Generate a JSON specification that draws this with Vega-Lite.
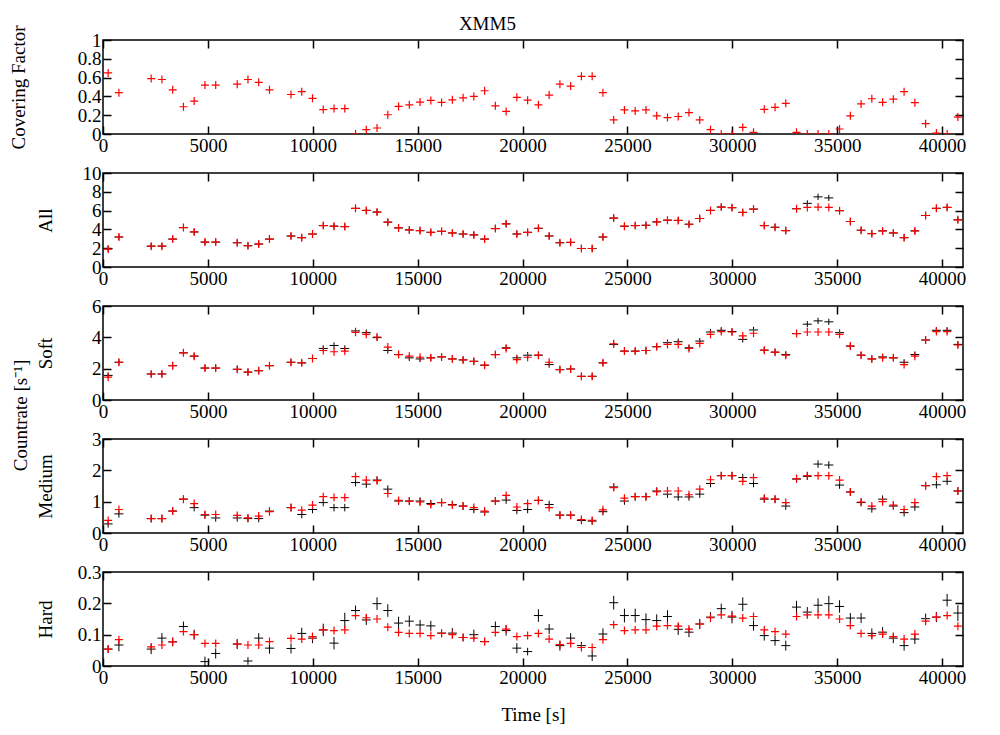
{
 "$schema": "https://vega.github.io/schema/vega-lite/v6.json",
 "padding": {"left": 8, "top": 15, "right": 30, "bottom": 5},
 "title": {"text": "XMM5", "font": "Liberation Serif", "fontSize": 19, "fontWeight": "normal", "color": "black", "anchor": "middle", "offset": -10},
 "bounds": "flush",
 "spacing": 39,
 "data": {"values": [
  {"t":245,"cf":0.65,"ar":1.9,"ab":1.95,"ae":0.33,"sr":1.46,"sb":1.57,"se":0.2,"mr":0.4,"mb":0.29,"me":0.12,"hr":0.054,"hb":0.054,"he":0.012},
  {"t":758,"cf":0.44,"ar":3.19,"ab":3.19,"ae":0.33,"sr":2.41,"sb":2.41,"se":0.2,"mr":0.75,"mb":0.61,"me":0.12,"hr":0.084,"hb":0.067,"he":0.02},
  {"t":2296,"cf":0.59,"ar":2.22,"ab":2.22,"ae":0.33,"sr":1.66,"sb":1.66,"se":0.2,"mr":0.46,"mb":0.46,"me":0.12,"hr":0.061,"hb":0.054,"he":0.016},
  {"t":2809,"cf":0.58,"ar":2.22,"ab":2.22,"ae":0.33,"sr":1.66,"sb":1.66,"se":0.2,"mr":0.46,"mb":0.46,"me":0.12,"hr":0.067,"hb":0.089,"he":0.016},
  {"t":3322,"cf":0.47,"ar":2.97,"ab":2.97,"ae":0.33,"sr":2.19,"sb":2.19,"se":0.2,"mr":0.7,"mb":0.7,"me":0.12,"hr":0.077,"hb":0.077,"he":0.014},
  {"t":3835,"cf":0.29,"ar":4.19,"ab":4.19,"ae":0.33,"sr":3.01,"sb":3.01,"se":0.2,"mr":1.08,"mb":1.08,"me":0.12,"hr":0.11,"hb":0.126,"he":0.016},
  {"t":4347,"cf":0.35,"ar":3.73,"ab":3.73,"ae":0.33,"sr":2.8,"sb":2.8,"se":0.2,"mr":0.94,"mb":0.81,"me":0.12,"hr":0.1,"hb":0.1,"he":0.016},
  {"t":4860,"cf":0.52,"ar":2.65,"ab":2.65,"ae":0.33,"sr":2.04,"sb":2.04,"se":0.2,"mr":0.59,"mb":0.57,"me":0.12,"hr":0.072,"hb":0.014,"he":0.016},
  {"t":5373,"cf":0.52,"ar":2.65,"ab":2.65,"ae":0.33,"sr":2.04,"sb":2.04,"se":0.2,"mr":0.59,"mb":0.48,"me":0.12,"hr":0.072,"hb":0.04,"he":0.016},
  {"t":6399,"cf":0.53,"ar":2.58,"ab":2.58,"ae":0.33,"sr":1.96,"sb":1.96,"se":0.2,"mr":0.56,"mb":0.48,"me":0.12,"hr":0.07,"hb":0.07,"he":0.016},
  {"t":6911,"cf":0.58,"ar":2.26,"ab":2.26,"ae":0.33,"sr":1.78,"sb":1.78,"se":0.2,"mr":0.48,"mb":0.46,"me":0.12,"hr":0.067,"hb":0.016,"he":0.012},
  {"t":7424,"cf":0.55,"ar":2.44,"ab":2.44,"ae":0.33,"sr":1.87,"sb":1.87,"se":0.2,"mr":0.54,"mb":0.46,"me":0.12,"hr":0.067,"hb":0.089,"he":0.016},
  {"t":7937,"cf":0.47,"ar":2.97,"ab":2.97,"ae":0.33,"sr":2.19,"sb":2.19,"se":0.2,"mr":0.68,"mb":0.7,"me":0.12,"hr":0.078,"hb":0.057,"he":0.018},
  {"t":8963,"cf":0.42,"ar":3.3,"ab":3.3,"ae":0.33,"sr":2.41,"sb":2.41,"se":0.2,"mr":0.81,"mb":0.81,"me":0.12,"hr":0.088,"hb":0.056,"he":0.016},
  {"t":9475,"cf":0.45,"ar":3.12,"ab":3.12,"ae":0.33,"sr":2.37,"sb":2.37,"se":0.2,"mr":0.73,"mb":0.59,"me":0.12,"hr":0.086,"hb":0.104,"he":0.018},
  {"t":9988,"cf":0.38,"ar":3.51,"ab":3.51,"ae":0.33,"sr":2.65,"sb":2.65,"se":0.2,"mr":0.89,"mb":0.75,"me":0.12,"hr":0.094,"hb":0.089,"he":0.016},
  {"t":10501,"cf":0.26,"ar":4.41,"ab":4.41,"ae":0.33,"sr":3.16,"sb":3.29,"se":0.2,"mr":1.16,"mb":0.97,"me":0.12,"hr":0.115,"hb":0.115,"he":0.02},
  {"t":11014,"cf":0.27,"ar":4.34,"ab":4.34,"ae":0.33,"sr":3.08,"sb":3.48,"se":0.2,"mr":1.13,"mb":0.81,"me":0.12,"hr":0.113,"hb":0.073,"he":0.02},
  {"t":11527,"cf":0.27,"ar":4.3,"ab":4.3,"ae":0.33,"sr":3.12,"sb":3.29,"se":0.2,"mr":1.13,"mb":0.81,"me":0.12,"hr":0.115,"hb":0.145,"he":0.025},
  {"t":12039,"cf":0.0,"ar":6.24,"ab":6.24,"ae":0.33,"sr":4.32,"sb":4.41,"se":0.2,"mr":1.8,"mb":1.61,"me":0.12,"hr":0.161,"hb":0.177,"he":0.016},
  {"t":12552,"cf":0.046,"ar":6.02,"ab":6.02,"ae":0.33,"sr":4.19,"sb":4.3,"se":0.2,"mr":1.69,"mb":1.56,"me":0.12,"hr":0.154,"hb":0.147,"he":0.016},
  {"t":13065,"cf":0.064,"ar":5.84,"ab":5.84,"ae":0.33,"sr":4.02,"sb":3.98,"se":0.2,"mr":1.67,"mb":1.69,"me":0.12,"hr":0.15,"hb":0.199,"he":0.02},
  {"t":13578,"cf":0.205,"ar":4.77,"ab":4.77,"ae":0.33,"sr":3.38,"sb":3.16,"se":0.2,"mr":1.26,"mb":1.4,"me":0.12,"hr":0.124,"hb":0.177,"he":0.02},
  {"t":14091,"cf":0.293,"ar":4.16,"ab":4.16,"ae":0.33,"sr":2.9,"sb":2.9,"se":0.2,"mr":1.04,"mb":1.02,"me":0.12,"hr":0.107,"hb":0.137,"he":0.02},
  {"t":14603,"cf":0.31,"ar":3.94,"ab":3.94,"ae":0.33,"sr":2.8,"sb":2.69,"se":0.2,"mr":1.02,"mb":1.02,"me":0.12,"hr":0.104,"hb":0.143,"he":0.018},
  {"t":15116,"cf":0.34,"ar":3.87,"ab":3.87,"ae":0.33,"sr":2.73,"sb":2.62,"se":0.2,"mr":0.99,"mb":1.02,"me":0.12,"hr":0.104,"hb":0.131,"he":0.016},
  {"t":15629,"cf":0.357,"ar":3.69,"ab":3.69,"ae":0.33,"sr":2.69,"sb":2.69,"se":0.2,"mr":0.91,"mb":0.94,"me":0.12,"hr":0.097,"hb":0.128,"he":0.016},
  {"t":16142,"cf":0.336,"ar":3.8,"ab":3.8,"ae":0.33,"sr":2.75,"sb":2.75,"se":0.2,"mr":0.97,"mb":0.97,"me":0.12,"hr":0.104,"hb":0.105,"he":0.012},
  {"t":16655,"cf":0.364,"ar":3.62,"ab":3.62,"ae":0.33,"sr":2.62,"sb":2.62,"se":0.2,"mr":0.89,"mb":0.91,"me":0.12,"hr":0.1,"hb":0.105,"he":0.016},
  {"t":17167,"cf":0.385,"ar":3.51,"ab":3.51,"ae":0.33,"sr":2.56,"sb":2.56,"se":0.2,"mr":0.86,"mb":0.86,"me":0.12,"hr":0.091,"hb":0.091,"he":0.012},
  {"t":17680,"cf":0.4,"ar":3.41,"ab":3.41,"ae":0.33,"sr":2.47,"sb":2.47,"se":0.2,"mr":0.81,"mb":0.75,"me":0.12,"hr":0.089,"hb":0.1,"he":0.016},
  {"t":18193,"cf":0.46,"ar":2.97,"ab":2.97,"ae":0.33,"sr":2.22,"sb":2.22,"se":0.2,"mr":0.7,"mb":0.67,"me":0.12,"hr":0.078,"hb":0.078,"he":0.012},
  {"t":18706,"cf":0.3,"ar":4.09,"ab":4.09,"ae":0.33,"sr":2.9,"sb":2.9,"se":0.2,"mr":1.02,"mb":1.02,"me":0.12,"hr":0.107,"hb":0.126,"he":0.016},
  {"t":19219,"cf":0.24,"ar":4.59,"ab":4.59,"ae":0.33,"sr":3.29,"sb":3.33,"se":0.2,"mr":1.2,"mb":1.05,"me":0.12,"hr":0.118,"hb":0.113,"he":0.016},
  {"t":19731,"cf":0.39,"ar":3.51,"ab":3.51,"ae":0.33,"sr":2.58,"sb":2.69,"se":0.2,"mr":0.83,"mb":0.72,"me":0.12,"hr":0.094,"hb":0.057,"he":0.016},
  {"t":20244,"cf":0.36,"ar":3.69,"ab":3.69,"ae":0.33,"sr":2.73,"sb":2.86,"se":0.2,"mr":0.94,"mb":0.75,"me":0.12,"hr":0.097,"hb":0.046,"he":0.012},
  {"t":20757,"cf":0.31,"ar":4.12,"ab":4.12,"ae":0.33,"sr":2.86,"sb":2.86,"se":0.2,"mr":1.04,"mb":1.04,"me":0.12,"hr":0.104,"hb":0.161,"he":0.02},
  {"t":21270,"cf":0.414,"ar":3.3,"ab":3.3,"ae":0.33,"sr":2.41,"sb":2.26,"se":0.2,"mr":0.81,"mb":0.91,"me":0.12,"hr":0.086,"hb":0.118,"he":0.016},
  {"t":21783,"cf":0.53,"ar":2.58,"ab":2.58,"ae":0.33,"sr":1.94,"sb":1.94,"se":0.2,"mr":0.57,"mb":0.57,"me":0.12,"hr":0.068,"hb":0.065,"he":0.016},
  {"t":22295,"cf":0.51,"ar":2.62,"ab":2.62,"ae":0.33,"sr":1.98,"sb":1.98,"se":0.2,"mr":0.57,"mb":0.57,"me":0.12,"hr":0.072,"hb":0.089,"he":0.016},
  {"t":22808,"cf":0.614,"ar":1.97,"ab":1.97,"ae":0.33,"sr":1.51,"sb":1.51,"se":0.2,"mr":0.43,"mb":0.4,"me":0.12,"hr":0.059,"hb":0.065,"he":0.012},
  {"t":23321,"cf":0.614,"ar":1.97,"ab":1.97,"ae":0.33,"sr":1.51,"sb":1.51,"se":0.2,"mr":0.4,"mb":0.38,"me":0.12,"hr":0.059,"hb":0.032,"he":0.016},
  {"t":23834,"cf":0.44,"ar":3.19,"ab":3.19,"ae":0.33,"sr":2.37,"sb":2.37,"se":0.2,"mr":0.74,"mb":0.68,"me":0.12,"hr":0.084,"hb":0.102,"he":0.018},
  {"t":24347,"cf":0.15,"ar":5.2,"ab":5.2,"ae":0.33,"sr":3.59,"sb":3.55,"se":0.2,"mr":1.45,"mb":1.47,"me":0.12,"hr":0.132,"hb":0.202,"he":0.022},
  {"t":24859,"cf":0.256,"ar":4.34,"ab":4.34,"ae":0.33,"sr":3.12,"sb":3.12,"se":0.2,"mr":1.11,"mb":1.02,"me":0.12,"hr":0.113,"hb":0.161,"he":0.022},
  {"t":25372,"cf":0.246,"ar":4.41,"ab":4.41,"ae":0.33,"sr":3.12,"sb":3.12,"se":0.2,"mr":1.16,"mb":1.16,"me":0.12,"hr":0.115,"hb":0.161,"he":0.022},
  {"t":25885,"cf":0.256,"ar":4.44,"ab":4.44,"ae":0.33,"sr":3.16,"sb":3.16,"se":0.2,"mr":1.16,"mb":1.16,"me":0.12,"hr":0.115,"hb":0.148,"he":0.02},
  {"t":26398,"cf":0.193,"ar":4.8,"ab":4.8,"ae":0.33,"sr":3.4,"sb":3.4,"se":0.2,"mr":1.32,"mb":1.34,"me":0.12,"hr":0.127,"hb":0.145,"he":0.02},
  {"t":26911,"cf":0.175,"ar":4.98,"ab":4.98,"ae":0.33,"sr":3.55,"sb":3.66,"se":0.2,"mr":1.34,"mb":1.24,"me":0.12,"hr":0.129,"hb":0.158,"he":0.02},
  {"t":27423,"cf":0.186,"ar":4.95,"ab":4.95,"ae":0.33,"sr":3.55,"sb":3.72,"se":0.2,"mr":1.34,"mb":1.15,"me":0.12,"hr":0.127,"hb":0.117,"he":0.018},
  {"t":27936,"cf":0.228,"ar":4.55,"ab":4.55,"ae":0.33,"sr":3.29,"sb":3.33,"se":0.2,"mr":1.22,"mb":1.15,"me":0.12,"hr":0.118,"hb":0.108,"he":0.016},
  {"t":28449,"cf":0.15,"ar":5.16,"ab":5.16,"ae":0.33,"sr":3.61,"sb":3.76,"se":0.2,"mr":1.4,"mb":1.24,"me":0.12,"hr":0.134,"hb":0.134,"he":0.016},
  {"t":28962,"cf":0.046,"ar":6.02,"ab":6.02,"ae":0.33,"sr":4.19,"sb":4.34,"se":0.2,"mr":1.7,"mb":1.58,"me":0.12,"hr":0.154,"hb":0.156,"he":0.016},
  {"t":29475,"cf":0.0,"ar":6.38,"ab":6.38,"ae":0.33,"sr":4.37,"sb":4.45,"se":0.2,"mr":1.83,"mb":1.83,"me":0.12,"hr":0.163,"hb":0.183,"he":0.016},
  {"t":29987,"cf":0.0,"ar":6.31,"ab":6.31,"ae":0.33,"sr":4.34,"sb":4.37,"se":0.2,"mr":1.83,"mb":1.83,"me":0.12,"hr":0.159,"hb":0.156,"he":0.02},
  {"t":30500,"cf":0.07,"ar":5.81,"ab":5.81,"ae":0.33,"sr":4.09,"sb":3.87,"se":0.2,"mr":1.65,"mb":1.77,"me":0.12,"hr":0.153,"hb":0.197,"he":0.022},
  {"t":31013,"cf":0.018,"ar":6.16,"ab":6.16,"ae":0.33,"sr":4.26,"sb":4.47,"se":0.2,"mr":1.77,"mb":1.58,"me":0.12,"hr":0.158,"hb":0.129,"he":0.016},
  {"t":31526,"cf":0.263,"ar":4.41,"ab":4.41,"ae":0.33,"sr":3.18,"sb":3.18,"se":0.2,"mr":1.11,"mb":1.08,"me":0.12,"hr":0.115,"hb":0.097,"he":0.016},
  {"t":32039,"cf":0.284,"ar":4.23,"ab":4.23,"ae":0.33,"sr":3.05,"sb":3.05,"se":0.2,"mr":1.08,"mb":1.08,"me":0.12,"hr":0.11,"hb":0.081,"he":0.016},
  {"t":32551,"cf":0.326,"ar":3.87,"ab":3.87,"ae":0.33,"sr":2.86,"sb":2.9,"se":0.2,"mr":0.97,"mb":0.86,"me":0.12,"hr":0.102,"hb":0.065,"he":0.016},
  {"t":33064,"cf":0.018,"ar":6.2,"ab":6.2,"ae":0.33,"sr":4.24,"sb":4.24,"se":0.2,"mr":1.74,"mb":1.72,"me":0.12,"hr":0.158,"hb":0.188,"he":0.02},
  {"t":33577,"cf":0.0,"ar":6.34,"ab":6.77,"ae":0.33,"sr":4.34,"sb":4.84,"se":0.2,"mr":1.83,"mb":1.81,"me":0.12,"hr":0.163,"hb":0.172,"he":0.016},
  {"t":34090,"cf":0.0,"ar":6.38,"ab":7.46,"ae":0.33,"sr":4.34,"sb":5.05,"se":0.2,"mr":1.83,"mb":2.2,"me":0.12,"hr":0.163,"hb":0.194,"he":0.022},
  {"t":34603,"cf":0.0,"ar":6.34,"ab":7.35,"ae":0.33,"sr":4.34,"sb":4.99,"se":0.2,"mr":1.83,"mb":2.17,"me":0.12,"hr":0.163,"hb":0.199,"he":0.025},
  {"t":35115,"cf":0.053,"ar":5.99,"ab":5.99,"ae":0.33,"sr":4.19,"sb":4.3,"se":0.2,"mr":1.69,"mb":1.53,"me":0.12,"hr":0.15,"hb":0.19,"he":0.02},
  {"t":35628,"cf":0.193,"ar":4.84,"ab":4.84,"ae":0.33,"sr":3.44,"sb":3.44,"se":0.2,"mr":1.31,"mb":1.31,"me":0.12,"hr":0.129,"hb":0.153,"he":0.016},
  {"t":36141,"cf":0.32,"ar":3.91,"ab":3.91,"ae":0.33,"sr":2.86,"sb":2.86,"se":0.2,"mr":0.99,"mb":0.97,"me":0.12,"hr":0.104,"hb":0.153,"he":0.016},
  {"t":36654,"cf":0.375,"ar":3.55,"ab":3.55,"ae":0.33,"sr":2.62,"sb":2.62,"se":0.2,"mr":0.86,"mb":0.77,"me":0.12,"hr":0.097,"hb":0.104,"he":0.016},
  {"t":37167,"cf":0.337,"ar":3.84,"ab":3.84,"ae":0.33,"sr":2.69,"sb":2.75,"se":0.2,"mr":1.0,"mb":1.08,"me":0.12,"hr":0.102,"hb":0.108,"he":0.016},
  {"t":37679,"cf":0.37,"ar":3.62,"ab":3.62,"ae":0.33,"sr":2.69,"sb":2.69,"se":0.2,"mr":0.89,"mb":0.86,"me":0.12,"hr":0.094,"hb":0.089,"he":0.016},
  {"t":38192,"cf":0.45,"ar":3.12,"ab":3.12,"ae":0.33,"sr":2.26,"sb":2.41,"se":0.2,"mr":0.75,"mb":0.65,"me":0.12,"hr":0.086,"hb":0.065,"he":0.016},
  {"t":38705,"cf":0.333,"ar":3.84,"ab":3.84,"ae":0.33,"sr":2.8,"sb":2.9,"se":0.2,"mr":0.97,"mb":0.83,"me":0.12,"hr":0.102,"hb":0.086,"he":0.016},
  {"t":39218,"cf":0.11,"ar":5.48,"ab":5.48,"ae":0.33,"sr":3.83,"sb":3.83,"se":0.2,"mr":1.51,"mb":1.51,"me":0.12,"hr":0.143,"hb":0.151,"he":0.016},
  {"t":39731,"cf":0.01,"ar":6.24,"ab":6.24,"ae":0.33,"sr":4.37,"sb":4.45,"se":0.2,"mr":1.8,"mb":1.54,"me":0.12,"hr":0.156,"hb":0.156,"he":0.016},
  {"t":40243,"cf":0.0,"ar":6.34,"ab":6.34,"ae":0.33,"sr":4.37,"sb":4.45,"se":0.2,"mr":1.83,"mb":1.65,"me":0.12,"hr":0.161,"hb":0.21,"he":0.02},
  {"t":40756,"cf":0.18,"ar":5.02,"ab":5.02,"ae":0.33,"sr":3.51,"sb":3.55,"se":0.2,"mr":1.34,"mb":1.34,"me":0.12,"hr":0.127,"hb":0.169,"he":0.025}
 ]},
 "vconcat": [
  {
   "width": 860, "height": 94,
   "layer": [
    {"mark": {"type": "point", "shape": "M-1,0H1M0,-1V1", "size": 64, "filled": false, "stroke": "#ff0000", "strokeWidth": 1.2, "opacity": 1, "clip": true},
     "encoding": {
      "x": {"field": "t", "type": "quantitative", "scale": {"domain": [0, 41000], "nice": false}, "axis": {"orient": "bottom", "values": [0,5000,10000,15000,20000,25000,30000,35000,40000], "format": "d", "title": null}},
      "y": {"field": "cf", "type": "quantitative", "scale": {"domain": [0, 1], "nice": false}, "axis": {"orient": "left", "values": [0,0.2,0.4,0.6,0.8,1], "format": "~r", "title": "Covering Factor", "titleX": -85}}}},
    {"mark": {"type": "point", "opacity": 0},
     "encoding": {
      "x": {"field": "t", "type": "quantitative", "axis": {"orient": "top", "values": [0,5000,10000,15000,20000,25000,30000,35000,40000], "labels": false, "title": null}},
      "y": {"field": "cf", "type": "quantitative", "axis": {"orient": "right", "values": [0,0.2,0.4,0.6,0.8,1], "labels": false, "title": null}}}}
   ],
   "resolve": {"axis": {"x": "independent", "y": "independent"}}
  },
  {
   "width": 860, "height": 94,
   "layer": [
    {"mark": {"type": "errorbar", "rule": {"stroke": "black", "strokeWidth": 1}},
     "encoding": {
      "x": {"field": "t", "type": "quantitative", "scale": {"domain": [0, 41000], "nice": false}, "axis": null},
      "y": {"field": "ab", "type": "quantitative", "scale": {"domain": [0, 10], "nice": false}, "axis": null},
      "yError": {"field": "ae"}}},
    {"mark": {"type": "point", "shape": "M-1,0H1", "size": 81, "filled": false, "stroke": "black", "strokeWidth": 1, "opacity": 1},
     "encoding": {
      "x": {"field": "t", "type": "quantitative", "axis": {"orient": "bottom", "values": [0,5000,10000,15000,20000,25000,30000,35000,40000], "format": "d", "title": null}},
      "y": {"field": "ab", "type": "quantitative", "axis": {"orient": "left", "values": [0,2,4,6,8,10], "format": "d", "title": "All", "titleX": -58}}}},
    {"mark": {"type": "point", "shape": "M-1,0H1M0,-1V1", "size": 64, "filled": false, "stroke": "#ff0000", "strokeWidth": 1.2, "opacity": 1},
     "encoding": {
      "x": {"field": "t", "type": "quantitative", "axis": {"orient": "top", "values": [0,5000,10000,15000,20000,25000,30000,35000,40000], "labels": false, "title": null}},
      "y": {"field": "ar", "type": "quantitative", "axis": {"orient": "right", "values": [0,2,4,6,8,10], "labels": false, "title": null}}}}
   ],
   "resolve": {"axis": {"x": "independent", "y": "independent"}}
  },
  {
   "width": 860, "height": 94,
   "layer": [
    {"mark": {"type": "errorbar", "rule": {"stroke": "black", "strokeWidth": 1}},
     "encoding": {
      "x": {"field": "t", "type": "quantitative", "scale": {"domain": [0, 41000], "nice": false}, "axis": null},
      "y": {"field": "sb", "type": "quantitative", "scale": {"domain": [0, 6], "nice": false}, "axis": {"orient": "left", "labels": false, "ticks": false, "title": "Countrate [s⁻¹]", "titleX": -83, "titleY": 109}},
      "yError": {"field": "se"}}},
    {"mark": {"type": "point", "shape": "M-1,0H1", "size": 81, "filled": false, "stroke": "black", "strokeWidth": 1, "opacity": 1},
     "encoding": {
      "x": {"field": "t", "type": "quantitative", "axis": {"orient": "bottom", "values": [0,5000,10000,15000,20000,25000,30000,35000,40000], "format": "d", "title": null}},
      "y": {"field": "sb", "type": "quantitative", "axis": {"orient": "left", "values": [0,2,4,6], "format": "d", "title": "Soft", "titleX": -58}}}},
    {"mark": {"type": "point", "shape": "M-1,0H1M0,-1V1", "size": 64, "filled": false, "stroke": "#ff0000", "strokeWidth": 1.2, "opacity": 1},
     "encoding": {
      "x": {"field": "t", "type": "quantitative", "axis": {"orient": "top", "values": [0,5000,10000,15000,20000,25000,30000,35000,40000], "labels": false, "title": null}},
      "y": {"field": "sr", "type": "quantitative", "axis": {"orient": "right", "values": [0,2,4,6], "labels": false, "title": null}}}}
   ],
   "resolve": {"axis": {"x": "independent", "y": "independent"}}
  },
  {
   "width": 860, "height": 94,
   "layer": [
    {"mark": {"type": "errorbar", "rule": {"stroke": "black", "strokeWidth": 1}},
     "encoding": {
      "x": {"field": "t", "type": "quantitative", "scale": {"domain": [0, 41000], "nice": false}, "axis": null},
      "y": {"field": "mb", "type": "quantitative", "scale": {"domain": [0, 3], "nice": false}, "axis": null},
      "yError": {"field": "me"}}},
    {"mark": {"type": "point", "shape": "M-1,0H1", "size": 81, "filled": false, "stroke": "black", "strokeWidth": 1, "opacity": 1},
     "encoding": {
      "x": {"field": "t", "type": "quantitative", "axis": {"orient": "bottom", "values": [0,5000,10000,15000,20000,25000,30000,35000,40000], "format": "d", "title": null}},
      "y": {"field": "mb", "type": "quantitative", "axis": {"orient": "left", "values": [0,1,2,3], "format": "d", "title": "Medium", "titleX": -58}}}},
    {"mark": {"type": "point", "shape": "M-1,0H1M0,-1V1", "size": 64, "filled": false, "stroke": "#ff0000", "strokeWidth": 1.2, "opacity": 1},
     "encoding": {
      "x": {"field": "t", "type": "quantitative", "axis": {"orient": "top", "values": [0,5000,10000,15000,20000,25000,30000,35000,40000], "labels": false, "title": null}},
      "y": {"field": "mr", "type": "quantitative", "axis": {"orient": "right", "values": [0,1,2,3], "labels": false, "title": null}}}}
   ],
   "resolve": {"axis": {"x": "independent", "y": "independent"}}
  },
  {
   "width": 860, "height": 94,
   "layer": [
    {"mark": {"type": "errorbar", "rule": {"stroke": "black", "strokeWidth": 1}},
     "encoding": {
      "x": {"field": "t", "type": "quantitative", "scale": {"domain": [0, 41000], "nice": false}, "axis": null},
      "y": {"field": "hb", "type": "quantitative", "scale": {"domain": [0, 0.3], "nice": false}, "axis": null},
      "yError": {"field": "he"}}},
    {"mark": {"type": "point", "shape": "M-1,0H1", "size": 81, "filled": false, "stroke": "black", "strokeWidth": 1, "opacity": 1},
     "encoding": {
      "x": {"field": "t", "type": "quantitative", "axis": {"orient": "bottom", "values": [0,5000,10000,15000,20000,25000,30000,35000,40000], "format": "d", "title": "Time [s]", "titleY": 48, "titleBaseline": "middle"}},
      "y": {"field": "hb", "type": "quantitative", "axis": {"orient": "left", "values": [0,0.1,0.2,0.3], "format": "~r", "title": "Hard", "titleX": -58}}}},
    {"mark": {"type": "point", "shape": "M-1,0H1M0,-1V1", "size": 64, "filled": false, "stroke": "#ff0000", "strokeWidth": 1.2, "opacity": 1},
     "encoding": {
      "x": {"field": "t", "type": "quantitative", "axis": {"orient": "top", "values": [0,5000,10000,15000,20000,25000,30000,35000,40000], "labels": false, "title": null}},
      "y": {"field": "hr", "type": "quantitative", "axis": {"orient": "right", "values": [0,0.1,0.2,0.3], "labels": false, "title": null}}}}
   ],
   "resolve": {"axis": {"x": "independent", "y": "independent"}}
  }
 ],
 "config": {
  "view": {"stroke": "black", "strokeWidth": 1.5},
  "axis": {
   "domain": false, "grid": false,
   "labelFont": "Liberation Serif", "labelFontSize": 19, "labelColor": "black", "labelOverlap": false, "labelFlush": false,
   "titleFont": "Liberation Serif", "titleFontSize": 19, "titleFontWeight": "normal", "titleColor": "black",
   "titleBaseline": "middle",
   "tickColor": "black", "tickWidth": 1.5, "tickSize": -8, "labelPadding": 10
  }
 }
}
